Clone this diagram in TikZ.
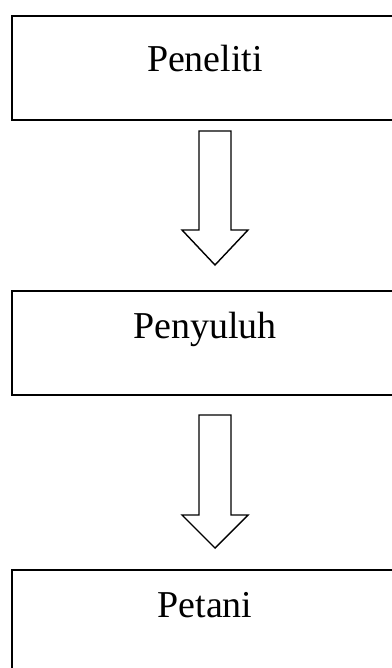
\documentclass[tikz,border=0pt]{standalone}
\usepackage{fontspec}
\setmainfont{Liberation Serif}
\usetikzlibrary{positioning}

\tikzset{
  box/.style={draw, line width=1.3pt, anchor=north west, minimum width=9.8cm, minimum height=2.6cm, inner sep=0pt},
  boxtext/.style={anchor=base, font=\fontsize{27}{32}\selectfont, inner sep=0pt},
  blockarrow/.style={draw, line width=1pt, fill=white, line join=miter}
}

\begin{document}
\begin{tikzpicture}[x=0.025cm, y=-0.025cm]
    \useasboundingbox (0,0) rectangle (392,668);
    \clip (0,0) rectangle (392,668);

    % boxes
    \node[box] (Peneliti) at (11,15) {};
    \node[box] (Penyuluh) at (11,290) {};
    \node[box] (Petani) at (11,569) {};

    \node[boxtext] (tPeneliti) at (205,72) {Peneliti};
    \node[boxtext] (tPenyuluh) at (205,338) {Penyuluh};
    \node[boxtext] (tPetani) at (205,617) {Petani};

    % block arrows
    \coordinate (a1) at (215,131);
    \coordinate (a2) at (215,415);
    \draw[blockarrow] (a1) ++(-16,0) -- ++(32,0) -- ++(0,99) -- ++(17,0)
        -- ++(-33,35) -- ++(-33,-35) -- ++(17,0) -- cycle;
    \draw[blockarrow] (a2) ++(-16,0) -- ++(32,0) -- ++(0,100) -- ++(17,0)
        -- ++(-33,33) -- ++(-33,-33) -- ++(17,0) -- cycle;
\end{tikzpicture}
\end{document}
